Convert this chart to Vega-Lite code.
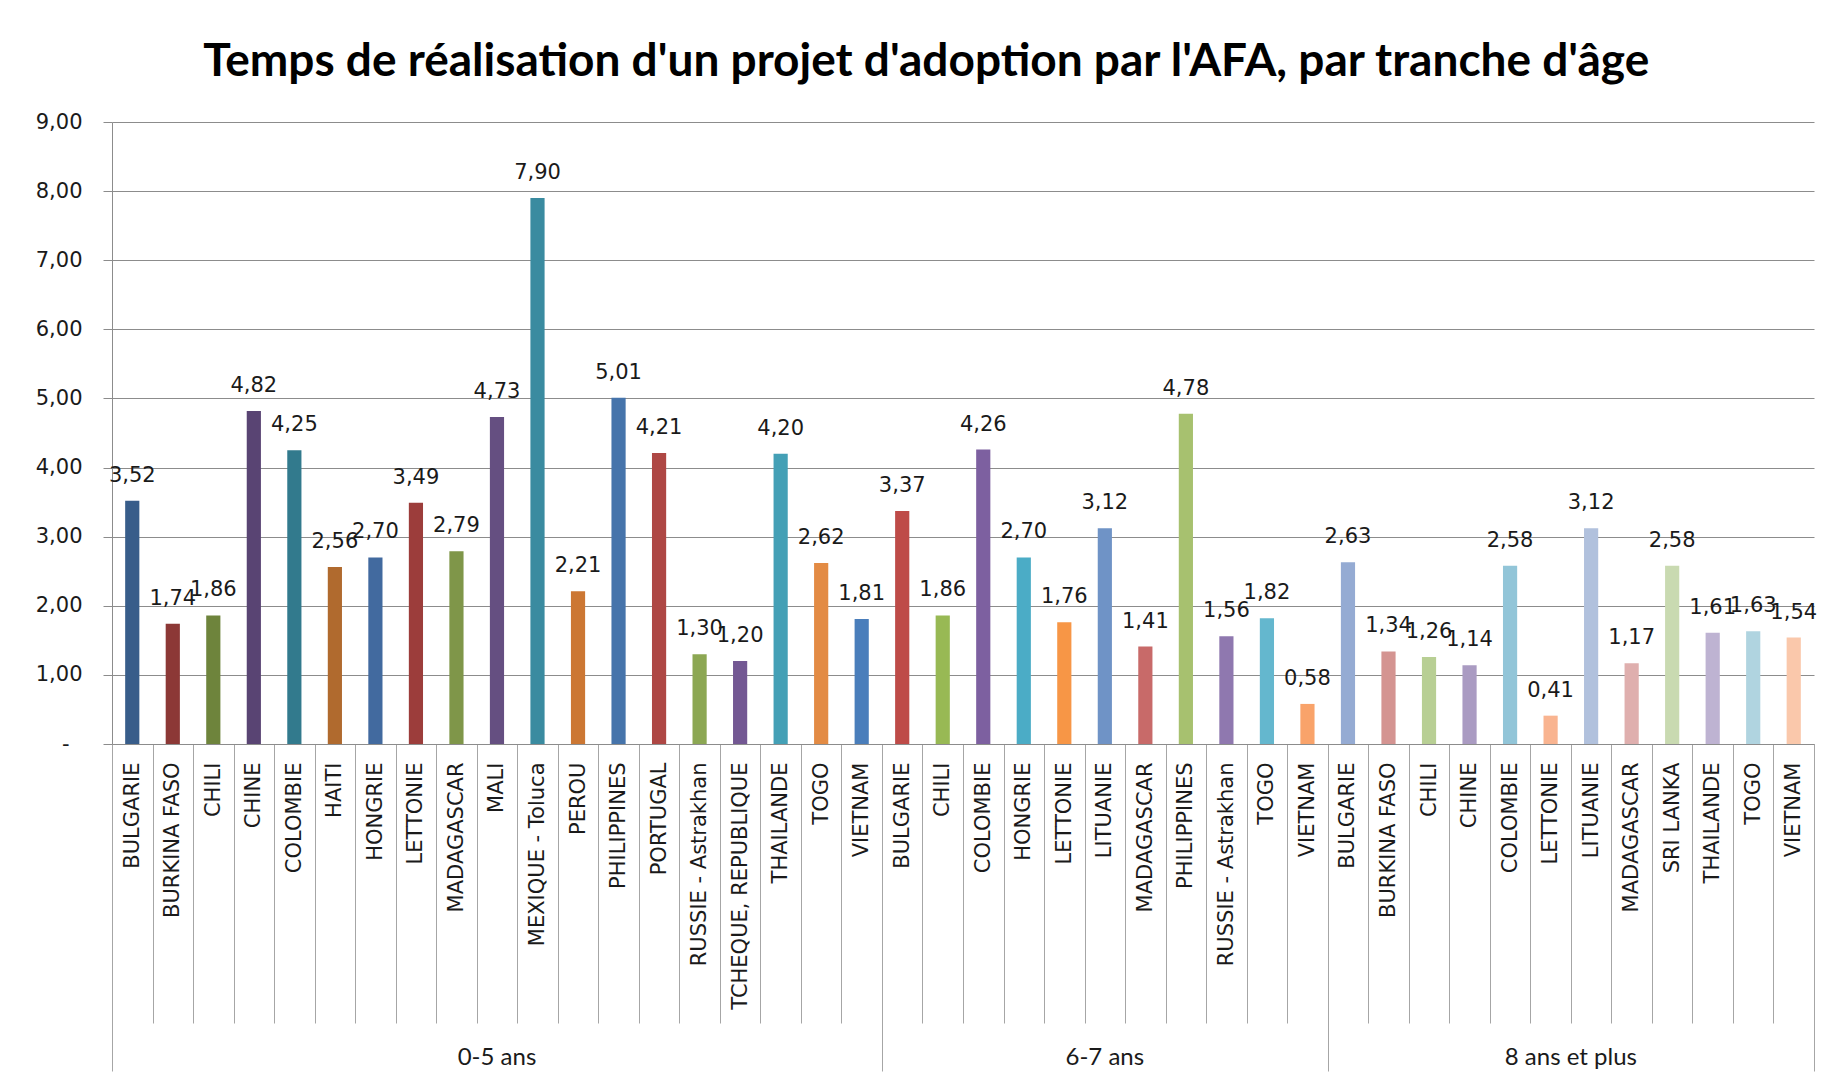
{
  "$schema": "https://vega.github.io/schema/vega-lite/v6.json",
  "width": 1702,
  "height": 622,
  "autosize": {"type": "none"},
  "padding": {"left": 112, "top": 122, "right": 15, "bottom": 336},
  "background": "white",
  "title": {
    "text": "Temps de réalisation d'un projet d'adoption par l'AFA, par tranche d'âge",
    "font": "Lato", "fontSize": 46, "fontWeight": "bold", "color": "#000000",
    "anchor": "middle", "frame": "bounds", "baseline": "alphabetic", "offset": -11
  },
  "config": {
    "view": {"stroke": null},
    "locale": {"number": {"decimal": ",", "thousands": " ", "grouping": [3], "currency": ["", " €"]}}
  },
  "data": {"values": [
    {"tranche": "0-5 ans", "pays": "BULGARIE", "cle": "0-5 ans|BULGARIE", "valeur": 3.52},
    {"tranche": "0-5 ans", "pays": "BURKINA FASO", "cle": "0-5 ans|BURKINA FASO", "valeur": 1.74},
    {"tranche": "0-5 ans", "pays": "CHILI", "cle": "0-5 ans|CHILI", "valeur": 1.86},
    {"tranche": "0-5 ans", "pays": "CHINE", "cle": "0-5 ans|CHINE", "valeur": 4.82},
    {"tranche": "0-5 ans", "pays": "COLOMBIE", "cle": "0-5 ans|COLOMBIE", "valeur": 4.25},
    {"tranche": "0-5 ans", "pays": "HAITI", "cle": "0-5 ans|HAITI", "valeur": 2.56},
    {"tranche": "0-5 ans", "pays": "HONGRIE", "cle": "0-5 ans|HONGRIE", "valeur": 2.70},
    {"tranche": "0-5 ans", "pays": "LETTONIE", "cle": "0-5 ans|LETTONIE", "valeur": 3.49},
    {"tranche": "0-5 ans", "pays": "MADAGASCAR", "cle": "0-5 ans|MADAGASCAR", "valeur": 2.79},
    {"tranche": "0-5 ans", "pays": "MALI", "cle": "0-5 ans|MALI", "valeur": 4.73},
    {"tranche": "0-5 ans", "pays": "MEXIQUE - Toluca", "cle": "0-5 ans|MEXIQUE - Toluca", "valeur": 7.90},
    {"tranche": "0-5 ans", "pays": "PEROU", "cle": "0-5 ans|PEROU", "valeur": 2.21},
    {"tranche": "0-5 ans", "pays": "PHILIPPINES", "cle": "0-5 ans|PHILIPPINES", "valeur": 5.01},
    {"tranche": "0-5 ans", "pays": "PORTUGAL", "cle": "0-5 ans|PORTUGAL", "valeur": 4.21},
    {"tranche": "0-5 ans", "pays": "RUSSIE - Astrakhan", "cle": "0-5 ans|RUSSIE - Astrakhan", "valeur": 1.30},
    {"tranche": "0-5 ans", "pays": "TCHEQUE, REPUBLIQUE", "cle": "0-5 ans|TCHEQUE, REPUBLIQUE", "valeur": 1.20},
    {"tranche": "0-5 ans", "pays": "THAILANDE", "cle": "0-5 ans|THAILANDE", "valeur": 4.20},
    {"tranche": "0-5 ans", "pays": "TOGO", "cle": "0-5 ans|TOGO", "valeur": 2.62},
    {"tranche": "0-5 ans", "pays": "VIETNAM", "cle": "0-5 ans|VIETNAM", "valeur": 1.81},
    {"tranche": "6-7 ans", "pays": "BULGARIE", "cle": "6-7 ans|BULGARIE", "valeur": 3.37},
    {"tranche": "6-7 ans", "pays": "CHILI", "cle": "6-7 ans|CHILI", "valeur": 1.86},
    {"tranche": "6-7 ans", "pays": "COLOMBIE", "cle": "6-7 ans|COLOMBIE", "valeur": 4.26},
    {"tranche": "6-7 ans", "pays": "HONGRIE", "cle": "6-7 ans|HONGRIE", "valeur": 2.70},
    {"tranche": "6-7 ans", "pays": "LETTONIE", "cle": "6-7 ans|LETTONIE", "valeur": 1.76},
    {"tranche": "6-7 ans", "pays": "LITUANIE", "cle": "6-7 ans|LITUANIE", "valeur": 3.12},
    {"tranche": "6-7 ans", "pays": "MADAGASCAR", "cle": "6-7 ans|MADAGASCAR", "valeur": 1.41},
    {"tranche": "6-7 ans", "pays": "PHILIPPINES", "cle": "6-7 ans|PHILIPPINES", "valeur": 4.78},
    {"tranche": "6-7 ans", "pays": "RUSSIE - Astrakhan", "cle": "6-7 ans|RUSSIE - Astrakhan", "valeur": 1.56},
    {"tranche": "6-7 ans", "pays": "TOGO", "cle": "6-7 ans|TOGO", "valeur": 1.82},
    {"tranche": "6-7 ans", "pays": "VIETNAM", "cle": "6-7 ans|VIETNAM", "valeur": 0.58},
    {"tranche": "8 ans et plus", "pays": "BULGARIE", "cle": "8 ans et plus|BULGARIE", "valeur": 2.63},
    {"tranche": "8 ans et plus", "pays": "BURKINA FASO", "cle": "8 ans et plus|BURKINA FASO", "valeur": 1.34},
    {"tranche": "8 ans et plus", "pays": "CHILI", "cle": "8 ans et plus|CHILI", "valeur": 1.26},
    {"tranche": "8 ans et plus", "pays": "CHINE", "cle": "8 ans et plus|CHINE", "valeur": 1.14},
    {"tranche": "8 ans et plus", "pays": "COLOMBIE", "cle": "8 ans et plus|COLOMBIE", "valeur": 2.58},
    {"tranche": "8 ans et plus", "pays": "LETTONIE", "cle": "8 ans et plus|LETTONIE", "valeur": 0.41},
    {"tranche": "8 ans et plus", "pays": "LITUANIE", "cle": "8 ans et plus|LITUANIE", "valeur": 3.12},
    {"tranche": "8 ans et plus", "pays": "MADAGASCAR", "cle": "8 ans et plus|MADAGASCAR", "valeur": 1.17},
    {"tranche": "8 ans et plus", "pays": "SRI LANKA", "cle": "8 ans et plus|SRI LANKA", "valeur": 2.58},
    {"tranche": "8 ans et plus", "pays": "THAILANDE", "cle": "8 ans et plus|THAILANDE", "valeur": 1.61},
    {"tranche": "8 ans et plus", "pays": "TOGO", "cle": "8 ans et plus|TOGO", "valeur": 1.63},
    {"tranche": "8 ans et plus", "pays": "VIETNAM", "cle": "8 ans et plus|VIETNAM", "valeur": 1.54}
  ]},
  "resolve": {"axis": {"x": "independent"}},
  "layer": [
    {
      "mark": {"type": "bar", "width": {"band": 0.35}},
      "encoding": {
        "x": {
          "field": "cle", "type": "nominal", "sort": null,
          "scale": {"paddingInner": 0, "paddingOuter": 0},
          "axis": {
            "orient": "bottom",
            "title": null,
            "labelExpr": "split(datum.value, '|')[1]",
            "labelAngle": -90, "labelAlign": "right", "labelBaseline": "middle",
            "labelFont": "DejaVu Sans", "labelFontSize": 21, "labelColor": "#1a1a1a",
            "labelLimit": 400, "labelOverlap": false,
            "labelPadding": {"condition": {"test": "datum.extra || indexof(['0-5 ans|VIETNAM','6-7 ans|VIETNAM','8 ans et plus|VIETNAM'], datum.value) >= 0", "value": -309}, "value": -261},
            "tickBand": "extent",
            "tickSize": {"condition": {"test": "datum.extra || indexof(['0-5 ans|VIETNAM','6-7 ans|VIETNAM','8 ans et plus|VIETNAM'], datum.value) >= 0", "value": 327}, "value": 279},
            "tickColor": "#a6a6a6", "tickWidth": 1,
            "domainColor": "#8c8c8c", "domainWidth": 1,
            "grid": false
          }
        },
        "y": {
          "field": "valeur", "type": "quantitative",
          "scale": {"domain": [0, 9], "nice": false},
          "axis": {
            "title": null,
            "values": [0, 1, 2, 3, 4, 5, 6, 7, 8, 9],
            "format": ".2f",
            "labelExpr": "datum.value == 0 ? '-' : datum.label",
            "labelFont": "DejaVu Sans", "labelFontSize": 21, "labelColor": "#1a1a1a",
            "labelPadding": {"condition": {"test": "datum.value == 0", "value": 34}, "value": 21},
            "tickSize": 9, "tickColor": "#8c8c8c",
            "domainColor": "#8c8c8c",
            "grid": true, "gridColor": "#8c8c8c", "gridWidth": 1
          }
        },
        "color": {
          "field": "cle", "type": "nominal", "sort": null, "legend": null,
          "scale": {"range": [
            "#385D8A", "#8C3836", "#6E843C", "#594473", "#327A8D", "#B06A2E", "#426A9F", "#9C3D3B", "#7F9649", "#654F81",
            "#3A8BA0", "#CC7733", "#4674AB", "#AE4744", "#8CA753", "#735893", "#44A0B6", "#E38B44", "#4A7EBB",
            "#BE4B48", "#98B954", "#7D60A0", "#4BACC6", "#F79646", "#6F93C6", "#C86A69", "#A7C16F", "#8F78AF", "#64B7CE", "#F9A36A",
            "#95ABD3", "#D49491", "#B8CF94", "#AA9BC2", "#92C5D8", "#F9B490", "#B1C1DD", "#DFAFAE", "#C9DAB1", "#BEB3D2", "#B0D4E0", "#FAC8AB"
          ]}
        }
      }
    },
    {
      "mark": {"type": "text", "font": "DejaVu Sans", "fontSize": 21, "color": "#1a1a1a", "baseline": "alphabetic", "align": "center", "dy": -19},
      "encoding": {
        "x": {
          "field": "cle", "type": "nominal", "sort": null,
          "scale": {"paddingInner": 0, "paddingOuter": 0},
          "axis": {
            "orient": "bottom",
            "title": null,
            "values": ["0-5 ans|MALI", "6-7 ans|LITUANIE", "8 ans et plus|LETTONIE"],
            "labelExpr": "split(datum.value, '|')[0]",
            "labelAngle": 0, "labelAlign": "center", "labelBaseline": "alphabetic",
            "labelPadding": 320,
            "labelOffset": {"condition": {"test": "datum.value == '8 ans et plus|LETTONIE'", "value": 20.26}, "value": 0},
            "labelFont": "Lato", "labelFontSize": 24, "labelColor": "#1a1a1a",
            "labelOverlap": false, "labelBound": false, "labelFlush": false,
            "ticks": false, "tickSize": 0, "domain": false, "grid": false
          }
        },
        "y": {"field": "valeur", "type": "quantitative", "scale": {"domain": [0, 9], "nice": false}},
        "text": {"field": "valeur", "type": "quantitative", "format": ".2f"}
      }
    }
  ]
}
